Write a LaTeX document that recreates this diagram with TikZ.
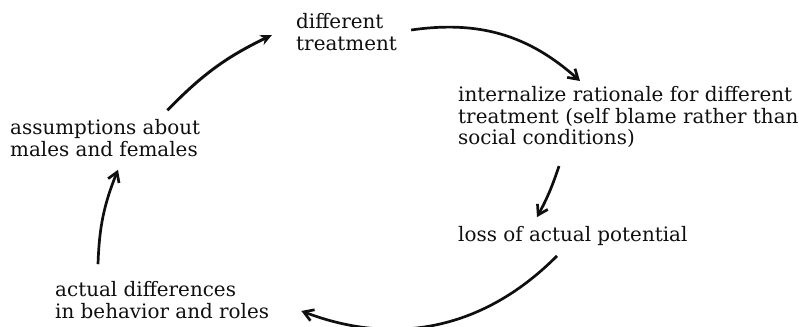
\documentclass[tikz,border=0pt]{standalone}
\usepackage{fontspec}
\setmainfont{DejaVu Serif}
\usepackage{tikz}
\usetikzlibrary{arrows.meta,positioning,calc}
\definecolor{inkblack}{RGB}{15,15,15}

\begin{document}
\begin{tikzpicture}[
    x=0.03cm,y=-0.03cm,
    lbl/.style={inner sep=0pt,anchor=west,align=left,text=inkblack,
                font=\fontsize{17}{18.5}\selectfont},
    arr/.style={-{Straight Barb[length=8pt,width=10pt]},line width=2.3pt,inkblack},
    arrf/.style={-{Stealth[length=10pt,width=9pt]},line width=2.5pt,inkblack}
  ]
    \useasboundingbox (0,0) rectangle (799,326);

    \node[lbl] (treat) at (296,32) {different\\treatment};
    \node[lbl] (assume) at (10,138) {assumptions about\\males and females};
    \node[lbl] (intern) at (458,117) {internalize rationale for different\\treatment (self blame rather than\\social conditions)};
    \node[lbl] (loss) at (458,236) {loss of actual potential};
    \node[lbl] (actual) at (55,300) {actual differences\\in behavior and roles};

    \draw[arrf] ([shift={(-33,-9)}]assume.north east) to[bend left=10] ([shift={(-24,3)}]treat.west);
    \draw[arr] ([shift={(14,-2)}]treat.east) to[bend left=25] ([shift={(122,-5)}]intern.north west);
    \draw[arr] ([shift={(101,18)}]intern.south west) to[bend left=5] ([shift={(79,-9)}]loss.north west);
    \draw[arr] ([shift={(99,10)}]loss.south west) to[bend left=33] ([shift={(32,11)}]actual.east);
    \draw[arr] ([shift={(43,-17)}]actual.north west) to[bend left=10] ([shift={(108,13)}]assume.south west);
  \end{tikzpicture}
\end{document}
